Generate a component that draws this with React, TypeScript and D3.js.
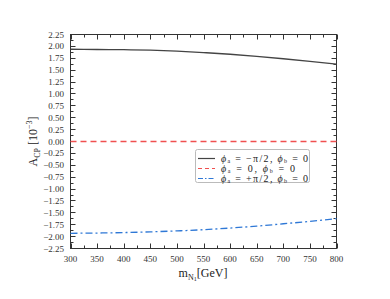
import React, { useEffect, useRef } from 'react';
import * as d3 from 'd3';

const masses = [300, 350, 400, 450, 500, 550, 600, 650, 700, 750, 800];
const minusHalfPi = [1.94, 1.935, 1.93, 1.92, 1.9, 1.87, 1.835, 1.79, 1.74, 1.685, 1.625];
const zeroPhase = [0, 0, 0, 0, 0, 0, 0, 0, 0, 0, 0];
const plusHalfPi = [-1.93, -1.925, -1.915, -1.9, -1.88, -1.855, -1.82, -1.78, -1.73, -1.68, -1.62];

const xTicks = [300, 350, 400, 450, 500, 550, 600, 650, 700, 750, 800];
const yTicks = [2.25, 2, 1.75, 1.5, 1.25, 1, 0.75, 0.5, 0.25, 0, -0.25, -0.5, -0.75, -1, -1.25, -1.5, -1.75, -2, -2.25];

const series = [
  { values: minusHalfPi, color: '#444', dash: '', legendDash: '', a: '−π/2', b: '0', w: 87 },
  { values: zeroPhase, color: '#f05050', dash: '6,4', legendDash: '4,3', a: '0', b: '0', w: 74 },
  { values: plusHalfPi, color: '#2f78d6', dash: '7,3,2,3', legendDash: '5,2,1.5,2', a: '+π/2', b: '0', w: 87 },
];

const App = () => {
  const svgRef = useRef<SVGSVGElement>(null);

  useEffect(() => {
    const svg = d3.select(svgRef.current);
    svg.selectAll('*').remove();

    const left = 70.5, right = 336.5, top = 34.5, bottom = 248.5;
    const font = '"Liberation Serif", "DejaVu Serif", serif';

    const x = d3.scaleLinear().domain([300, 800]).range([left, right]);
    const y = d3.scaleLinear().domain([-2.25, 2.25]).range([bottom, top]);

    // frame
    svg.append('rect')
      .attr('x', left).attr('y', top)
      .attr('width', right - left).attr('height', bottom - top)
      .attr('fill', 'none').attr('stroke', '#333').attr('stroke-width', 1);

    const tickColor = '#333';
    // inside ticks on all four sides, minor between majors
    d3.range(300, 801, 25).forEach(v => {
      const len = v % 50 === 0 ? 5 : 3;
      const px = Math.round(x(v)) + 0.5;
      svg.append('line').attr('x1', px).attr('x2', px).attr('y1', bottom).attr('y2', bottom - len).attr('stroke', tickColor);
      svg.append('line').attr('x1', px).attr('x2', px).attr('y1', top).attr('y2', top + len).attr('stroke', tickColor);
    });
    d3.range(-2.25, 2.26, 0.125).forEach((v, i) => {
      const len = i % 2 === 0 ? 5 : 3;
      const py = Math.round(y(v) - 0.5) + 0.5;
      svg.append('line').attr('x1', left).attr('x2', left + len).attr('y1', py).attr('y2', py).attr('stroke', tickColor);
      svg.append('line').attr('x1', right).attr('x2', right - len).attr('y1', py).attr('y2', py).attr('stroke', tickColor);
    });

    svg.append('g').selectAll('text').data(xTicks).enter().append('text')
      .attr('x', d => x(d)).attr('y', 262)
      .attr('text-anchor', 'middle')
      .attr('font-family', font).attr('font-size', 9).attr('fill', '#333')
      .text(d => d);

    svg.append('g').selectAll('text').data(yTicks).enter().append('text')
      .attr('x', 64).attr('y', d => y(d) + 3)
      .attr('text-anchor', 'end')
      .attr('font-family', font).attr('font-size', 9).attr('fill', '#333')
      .text(d => (d < 0 ? '−' : '') + Math.abs(d).toFixed(2));

    // axis labels
    const xl = svg.append('text')
      .attr('x', 203).attr('y', 277)
      .attr('text-anchor', 'middle')
      .attr('font-family', font).attr('font-size', 12).attr('fill', '#222');
    xl.append('tspan').text('m');
    xl.append('tspan').attr('font-size', 8).attr('dy', 3).text('N');
    xl.append('tspan').attr('font-size', 6).attr('dy', 1).text('1');
    xl.append('tspan').attr('dy', -4).text('[GeV]');

    const yl = svg.append('text')
      .attr('transform', `translate(37,${(top + bottom) / 2}) rotate(-90)`)
      .attr('text-anchor', 'middle')
      .attr('font-family', font).attr('font-size', 12).attr('fill', '#222');
    yl.append('tspan').text('A');
    yl.append('tspan').attr('font-size', 8).attr('dy', 3).text('CP');
    yl.append('tspan').attr('dy', -3).text(' [10');
    yl.append('tspan').attr('font-size', 8).attr('dy', -5).text('−3');
    yl.append('tspan').attr('dy', 5).text(']');

    // curves
    const line = d3.line<number>()
      .x((_, i) => x(masses[i]))
      .y(d => y(d))
      .curve(d3.curveMonotoneX);

    series.forEach(s => {
      svg.append('path')
        .attr('d', line(s.values))
        .attr('fill', 'none')
        .attr('stroke', s.color)
        .attr('stroke-width', 1.3)
        .attr('stroke-dasharray', s.dash || null);
    });

    // legend
    const lg = svg.append('g');
    lg.append('rect')
      .attr('x', 195.5).attr('y', 149.5).attr('width', 114).attr('height', 33)
      .attr('rx', 2)
      .attr('fill', 'white').attr('stroke', '#bbb').attr('stroke-width', 1);
    series.forEach((s, i) => {
      const ly = 158.5 + i * 10;
      lg.append('line')
        .attr('x1', 198).attr('x2', 215).attr('y1', ly).attr('y2', ly)
        .attr('stroke', s.color).attr('stroke-width', 1.2)
        .attr('stroke-dasharray', s.legendDash || null);
      const t = lg.append('text')
        .attr('x', 221).attr('y', ly + 3)
        .attr('textLength', s.w).attr('lengthAdjust', 'spacing')
        .attr('font-family', font).attr('font-size', 10).attr('fill', '#222');
      t.append('tspan').attr('font-style', 'italic').text('ϕ');
      t.append('tspan').attr('font-size', 6).attr('dy', 1.5).text('a');
      t.append('tspan').attr('dy', -1.5).text(` = ${s.a}, `);
      t.append('tspan').attr('font-style', 'italic').text('ϕ');
      t.append('tspan').attr('font-size', 6).attr('dy', 1.5).text('b');
      t.append('tspan').attr('dy', -1.5).text(` = ${s.b}`);
    });
  }, []);

  return <svg ref={svgRef} width={390} height={299} style={{ display: 'block', position: 'absolute', left: 0, top: 0 }} />;
};

export default App;
